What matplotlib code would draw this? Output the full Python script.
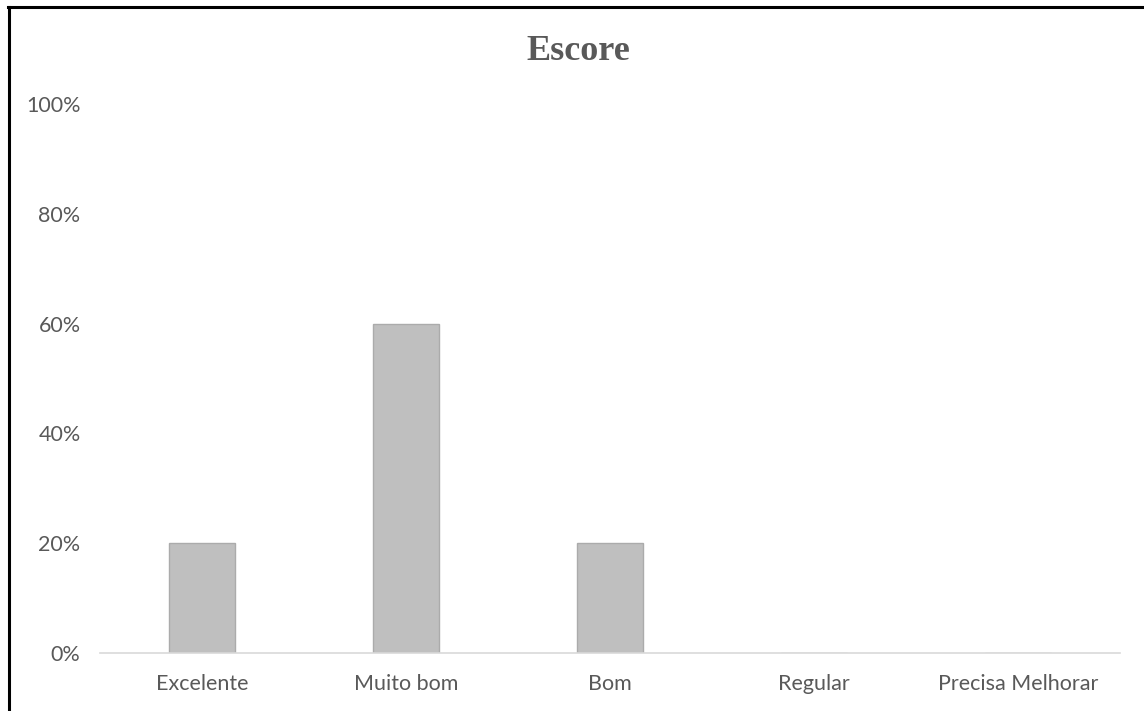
import matplotlib

matplotlib.use("Agg")

import matplotlib.pyplot as plt
from matplotlib.lines import Line2D
from matplotlib.ticker import FuncFormatter

categories = ["Excelente", "Muito bom", "Bom", "Regular", "Precisa Melhorar"]
values = [0.20, 0.60, 0.20, 0.0, 0.0]
yticks = [0.0, 0.2, 0.4, 0.6, 0.8, 1.0]

text_color = "#595959"

fig = plt.figure(figsize=(11.44, 7.11), dpi=100)
ax = fig.add_axes([100 / 1144, 1 - 653 / 711, 1020 / 1144, (653 - 104) / 711])

x = range(len(categories))
ax.bar(x, values, width=0.32, color="#BFBFBF", edgecolor="#ABABAB", linewidth=1.0)

ax.set_xlim(-0.5, len(categories) - 0.5)
ax.set_ylim(0, 1.0)
ax.set_yticks(yticks)
ax.yaxis.set_major_formatter(FuncFormatter(lambda v, _: f"{v * 100:.0f}%"))
ax.set_xticks(list(x))
ax.set_xticklabels(categories)

for side in ["top", "right", "left"]:
    ax.spines[side].set_visible(False)
ax.spines["bottom"].set_color("#D9D9D9")
ax.spines["bottom"].set_linewidth(1.2)

ax.tick_params(axis="both", length=0, labelcolor=text_color, labelsize=15.5)
ax.tick_params(axis="y", pad=14)
ax.tick_params(axis="x", pad=15)
for lab in ax.get_xticklabels() + ax.get_yticklabels():
    lab.set_fontfamily("Lato")

fig.text(578 / 1144, 1 - 51 / 711, "Escore", ha="center", va="center",
         fontsize=26, fontweight="bold", family="Liberation Serif", color=text_color)

# outer frame (left and top edges only are visible)
fig.add_artist(Line2D([9 / 1144, 9 / 1144], [0, 1 - 7 / 711], color="black", linewidth=2.2,
                      transform=fig.transFigure))
fig.add_artist(Line2D([8 / 1144, 1], [1 - 7 / 711, 1 - 7 / 711], color="black", linewidth=2.2,
                      transform=fig.transFigure))

fig.savefig("out.png", dpi=100)
